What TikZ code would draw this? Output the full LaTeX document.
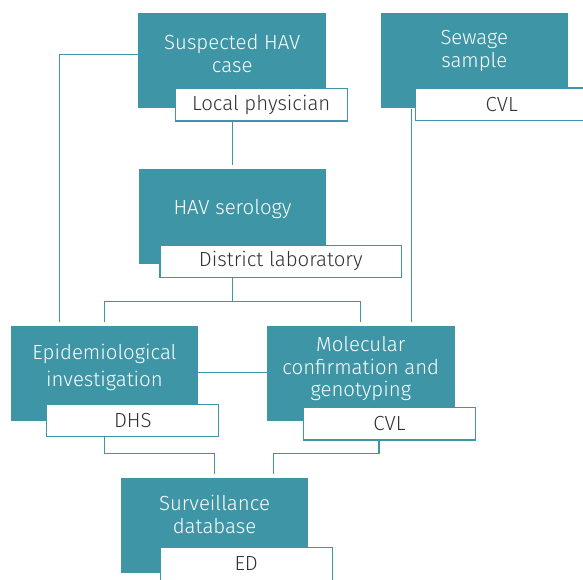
\documentclass[tikz,border=0pt]{standalone}
\usepackage{fontspec}
\setmainfont{Fira Sans Light}
\usepackage{tikz}
\definecolor{hav}{RGB}{62,149,166}
\definecolor{ink}{RGB}{50,50,50}
\tikzstyle{stage}=[fill=hav, inner sep=0pt, minimum width=187.5pt, minimum height=95pt]
\tikzstyle{caption}=[text=white, align=center, inner sep=0pt,
                     font=\fontsize{20.4}{22.5}\selectfont]
\tikzstyle{tag}=[draw=hav, fill=white, text=ink, line width=1.1pt, inner sep=0pt,
                 minimum width=172pt, minimum height=32.5pt,
                 font=\fontsize{20.4}{22.5}\selectfont]
\tikzstyle{link}=[draw=hav, line width=1.2pt, shorten >=4pt]

\begin{document}
\begin{tikzpicture}[x=1pt, y=-1pt]
\useasboundingbox (0,0) rectangle (583,579);
\node[stage] (case) at (232.2,60.8) {};
\node[stage] (sewage) at (474.3,60.8) {};
\node[stage] (serology) at (232.5,216.8) {};
\node[stage] (epi) at (104.5,373.5) {};
\node[stage] (mol) at (360.8,373.5) {};
\node[stage] (db) at (214.5,525.5) {};
\node[caption] (casetext) at ([yshift=7.5pt]case) {Suspected HAV\\case};
\node[caption] (sewagetext) at ([yshift=10pt]sewage) {Sewage\\sample};
\node[caption] (serologytext) at ([yshift=8pt]serology) {HAV serology};
\node[caption] (epitext) at ([yshift=6pt]epi) {Epidemiological\\[5pt]investigation};
\node[caption] (moltext) at ([yshift=4.5pt]mol) {Molecular\\confirmation and\\genotyping};
\node[caption] (dbtext) at ([yshift=11.3pt]db) {Surveillance\\database};
\node[tag] (physician) at (261.2,104.7) {Local physician};
\node[tag] (cvlsew) at (501.7,104.2) {CVL};
\node[tag, minimum width=241.7pt] (district) at (280.8,261.3) {District laboratory};
\node[tag] (dhs) at (132.8,420.5) {DHS};
\node[tag] (cvlmol) at (389.5,423.7) {CVL};
\node[tag] (ed) at (246.2,563.8) {ED};
\draw[link] ([yshift=6.5pt]case.west) -| ([xshift=48.6pt]epi.north west);
\draw[link] (physician.south -| serology.north) -- (serology.north);
\draw[link] (district.south -| serology.south) -- ++(0,23.5) coordinate (split) -| (epi.north);
\draw[link] (split) -| (mol.north);
\draw[link] ([xshift=31pt]sewage.south west) -- ([xshift=31pt]sewage.south west |- mol.north);
\draw[link, shorten >=0pt] ([yshift=1.2pt]epi.east) -- ([yshift=1.2pt]mol.west);
\draw[link] (dhs.south -| epi.south) -- ++(0,16.5) -| (db.north);
\draw[link] ([xshift=-10.5pt]cvlmol.south) -- ++(0,13) -| ([xshift=58.8pt]db.north);
\end{tikzpicture}
\end{document}
